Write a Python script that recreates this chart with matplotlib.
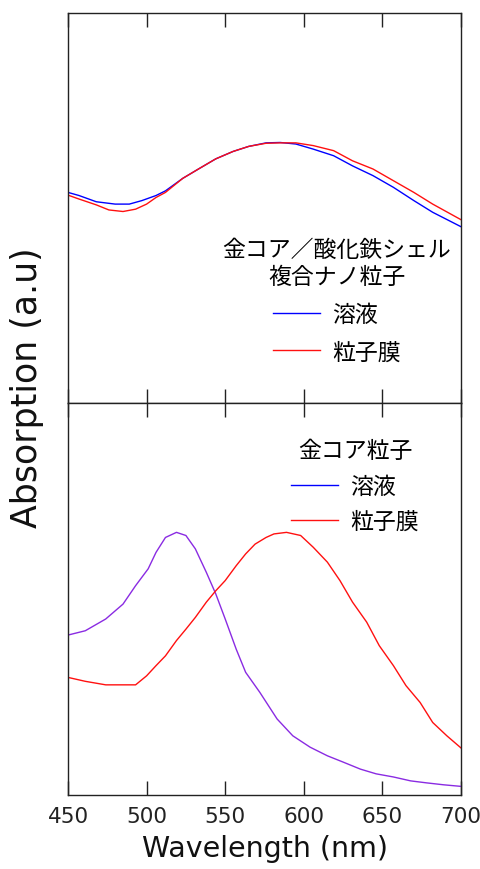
import matplotlib.pyplot as plt
from matplotlib.lines import Line2D
from matplotlib.font_manager import FontProperties

plt.rcParams['font.family'] = ['DejaVu Sans', 'Noto Sans CJK JP']

# =====================================
# DATA (absorption in arbitrary units)
# =====================================
# top panel: Au core / iron oxide shell composite nanoparticles
wl_top_sol = [450, 457, 468, 480, 489, 497, 506, 512, 523, 533, 544, 555, 565, 576, 585, 595,
              606, 619, 631, 644, 657, 670, 682, 700]
abs_top_sol = [0.540, 0.532, 0.516, 0.510, 0.510, 0.519, 0.532, 0.544, 0.576, 0.600, 0.626, 0.645,
               0.658, 0.667, 0.668, 0.664, 0.651, 0.634, 0.608, 0.583, 0.553, 0.519, 0.489, 0.452]

wl_top_film = [450, 457, 468, 476, 485, 493, 500, 506, 512, 523, 533, 544, 555, 565, 576, 585,
               595, 606, 619, 631, 644, 657, 670, 682, 700]
abs_top_film = [0.533, 0.523, 0.508, 0.495, 0.491, 0.497, 0.510, 0.527, 0.540, 0.576, 0.600, 0.626,
                0.645, 0.658, 0.666, 0.667, 0.667, 0.660, 0.647, 0.621, 0.600, 0.570, 0.540, 0.510,
                0.470]

# bottom panel: Au core particles
wl_bot_sol = [450, 461, 474, 485, 493, 501, 506, 512, 519, 525, 531, 538, 544, 550, 557, 563,
              572, 583, 593, 604, 615, 625, 636, 646, 657, 668, 678, 689, 700]
abs_bot_sol = [0.408, 0.419, 0.449, 0.487, 0.534, 0.577, 0.619, 0.657, 0.670, 0.662, 0.628, 0.568,
               0.513, 0.449, 0.372, 0.313, 0.262, 0.194, 0.151, 0.122, 0.100, 0.084, 0.066, 0.054,
               0.046, 0.036, 0.031, 0.026, 0.022]

wl_bot_film = [450, 461, 474, 493, 500, 506, 512, 519, 525, 531, 538, 544, 550, 557, 563, 569,
               576, 581, 589, 598, 606, 615, 623, 631, 640, 648, 657, 665, 674, 682, 691, 700]
abs_bot_film = [0.300, 0.290, 0.281, 0.281, 0.304, 0.330, 0.355, 0.394, 0.423, 0.453, 0.492, 0.521,
                0.547, 0.585, 0.615, 0.640, 0.657, 0.666, 0.670, 0.662, 0.632, 0.594, 0.547, 0.492,
                0.441, 0.381, 0.330, 0.279, 0.236, 0.185, 0.151, 0.120]

xticks = [450, 500, 550, 600, 650, 700]

title_top = "金コア／酸化鉄シェル\n複合ナノ粒子"
title_bot = "金コア粒子"
labels = ["溶液", "粒子膜"]

# =====================================
# FIGURE
# =====================================
fig = plt.figure(figsize=(4.81, 8.70), dpi=100)
ax1 = fig.add_axes([68 / 481, 1 - 404 / 870, 393 / 481, 390 / 870])
ax2 = fig.add_axes([68 / 481, 1 - 796 / 870, 393 / 481, 392 / 870])

jp = FontProperties(family='Noto Sans CJK JP', size=16.5)

ax1.plot(wl_top_sol, abs_top_sol, color='#0000ff', lw=1)
ax1.plot(wl_top_film, abs_top_film, color='#ff1010', lw=1)

ax2.plot(wl_bot_sol, abs_bot_sol, color='#8a2be2', lw=1)
ax2.plot(wl_bot_film, abs_bot_film, color='#ff1010', lw=1)

for ax in (ax1, ax2):
    ax.set_xlim(450, 700)
    ax.set_ylim(0, 1)
    ax.set_xticks(xticks)
    ax.set_yticks([])
    ax.tick_params(axis='x', direction='in', length=10, width=1, top=True, bottom=True,
                   color='#222222', labelsize=15.5, labelcolor='#222222', pad=8)
    for s in ax.spines.values():
        s.set_color('#222222')
        s.set_linewidth(1)

ax1.tick_params(axis='x', labelbottom=False)

# legends
handles = [Line2D([], [], color='#0000ff', lw=1), Line2D([], [], color='#ff1010', lw=1)]

leg1 = ax1.legend(handles, labels, title=title_top, prop=jp, title_fontproperties=jp,
                  frameon=False, loc='center', bbox_to_anchor=(0.684, 0.262),
                  handlelength=2.05, handletextpad=0.5, labelspacing=0.64, borderpad=0)
leg1.get_title().set_multialignment('center')

leg2 = ax2.legend(handles, labels, title=title_bot, prop=jp, title_fontproperties=jp,
                  frameon=False, loc='center', bbox_to_anchor=(0.730, 0.788),
                  handlelength=2.05, handletextpad=0.5, labelspacing=0.55, borderpad=0)

ax2.set_xlabel("Wavelength (nm)", fontsize=20.5, color='#111111', labelpad=6)
fig.text(27 / 481, 1 - 388 / 870, "Absorption (a.u)", rotation=90, fontsize=25,
         ha='center', va='center', color='#111111')

fig.savefig("out.png", dpi=100)
